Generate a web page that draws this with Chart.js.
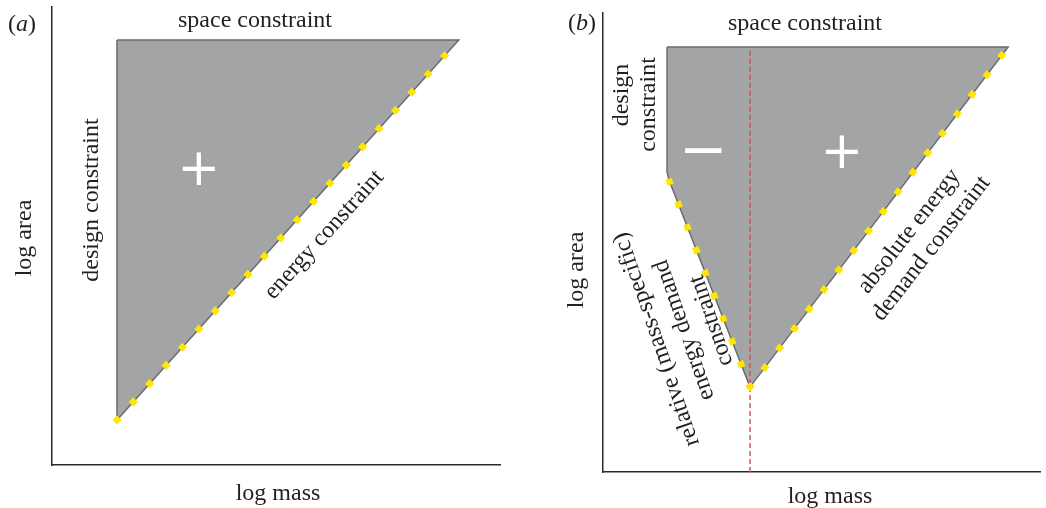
<!DOCTYPE html>
<html><head><meta charset="utf-8">
<script src="https://cdn.jsdelivr.net/npm/chart.js@4.4.1/dist/chart.umd.min.js"></script>
<style>
html,body{margin:0;padding:0;background:#fff;overflow:hidden;}
#wrap{position:relative;width:1046px;height:508px;}
canvas{position:absolute;top:0;}
#ca{left:0;} #cb{left:523px;}
</style></head><body>
<div id="wrap"><canvas id="ca" width="523" height="508"></canvas><canvas id="cb" width="523" height="508"></canvas></div>
<script>
// ---- Data (log mass, log area), arbitrary units 0–10 ----
// Panel (a)
const regionA_mass = [1.45, 9.08, 1.45, 1.45];
const regionA_area = [9.28, 9.28, 0.98, 9.28];
const energyA_mass = [1.45, 9.08];
const energyA_area = [0.98, 9.28];
// Panel (b)
const regionB_mass = [1.465, 9.27, 3.364, 1.51, 1.465, 1.465];
const regionB_area = [9.26, 9.26, 1.85, 6.36, 6.54, 9.26];
const relEnergyB_mass = [3.364, 1.51, 1.465];
const relEnergyB_area = [1.85, 6.36, 6.54];
const absEnergyB_mass = [3.364, 9.27];
const absEnergyB_area = [1.85, 9.26];
const optimumB_mass = [3.364, 3.364];
const optimumB_area = [0, 9.26];
const axisMin = 0, axisMax = 10;

const pts = (xs, ys) => xs.map((x, i) => ({x: x, y: ys[i]}));
const YEL = '#FFE600', FILL = '#A3A4A6', EDGE = '#6C6C6C', INK = '#231F20';
const SERIF = '24px "Liberation Serif", "Times New Roman", serif';

function textPlugin(items, offX) {
  return {
    id: 'texts',
    afterDraw(chart) {
      const ctx = chart.ctx;
      items.forEach(it => {
        ctx.save();
        ctx.fillStyle = it.color || INK;
        ctx.font = it.font || SERIF;
        const x = it.x - offX, y = it.y;
        if (it.parts) {
          ctx.textAlign = 'left'; ctx.textBaseline = 'alphabetic';
          let cx = x;
          it.parts.forEach(p => {
            ctx.font = p[1] + SERIF;
            ctx.fillText(p[0], cx, y);
            cx += ctx.measureText(p[0]).width;
          });
        } else if (it.sym) {
          ctx.textAlign = 'left'; ctx.textBaseline = 'alphabetic';
          const m = ctx.measureText(it.sym);
          const x0 = x - (m.actualBoundingBoxRight - m.actualBoundingBoxLeft) / 2;
          const y0 = y - (m.actualBoundingBoxDescent - m.actualBoundingBoxAscent) / 2;
          ctx.fillText(it.sym, x0, y0);
        } else {
          const lines = Array.isArray(it.t) ? it.t : [it.t];
          const lh = it.lh || 26;
          ctx.translate(x, y);
          ctx.rotate((it.rot || 0) * Math.PI / 180);
          ctx.textAlign = 'center'; ctx.textBaseline = 'alphabetic';
          lines.forEach((l, i) => ctx.fillText(l, 0, (i - (lines.length - 1) / 2) * lh));
        }
        ctx.restore();
      });
    }
  };
}

function scaleOpts() {
  const s = {
    type: 'linear', min: axisMin, max: axisMax,
    ticks: {display: false},
    grid: {display: false, drawTicks: false},
    border: {display: true, color: '#2A2A2A', width: 1.5}
  };
  return {x: Object.assign({}, s), y: JSON.parse(JSON.stringify(s))};
}

function yellowLine(label, data, radii) {
  return {
    label: label, data: data, showLine: true, fill: false,
    borderColor: YEL, borderWidth: 6.5, borderDash: [6.5, 18], borderDashOffset: 3.25,
    borderCapStyle: 'butt', tension: 0,
    pointRadius: radii, pointStyle: 'rectRot', pointBackgroundColor: YEL, pointBorderWidth: 0
  };
}
function region(label, data) {
  return {
    label: label, data: data, showLine: true, fill: 'shape', tension: 0,
    backgroundColor: FILL, borderColor: EDGE, borderWidth: 1.5, borderJoinStyle: 'miter',
    pointRadius: 0
  };
}
function baseOptions(padding) {
  return {
    responsive: false, animation: false, devicePixelRatio: 1,
    layout: {padding: padding, autoPadding: false},
    plugins: {legend: {display: false}, tooltip: {enabled: false}},
    scales: scaleOpts()
  };
}

const textsA = [
  {parts: [['(', ''], ['a', 'italic '], [')', '']], x: 8, y: 31},
  {t: 'space constraint', x: 255, y: 27},
  {sym: '+', x: 199, y: 168, font: '51px "DejaVu Sans"', color: '#fff'},
  {t: 'design constraint', x: 98, y: 200, rot: -90},
  {t: 'log area', x: 31, y: 238, rot: -90},
  {t: 'log mass', x: 278, y: 500},
  {t: 'energy constraint', x: 329, y: 239, rot: -47.8}
];
const textsB = [
  {parts: [['(', ''], ['b', 'italic '], [')', '']], x: 568, y: 29.5},
  {t: 'space constraint', x: 805, y: 30},
  {t: 'design', x: 628, y: 95, rot: -90},
  {t: 'constraint', x: 655, y: 104.5, rot: -90},
  {sym: '\u2212', x: 703.5, y: 151, font: '58px "DejaVu Sans"', color: '#fff'},
  {sym: '+', x: 842, y: 151, font: '51px "DejaVu Sans"', color: '#fff'},
  {t: 'log area', x: 583, y: 270, rot: -90},
  {t: 'log mass', x: 830, y: 503},
  {t: ['relative (mass-specific)', 'energy demand', 'constraint'], x: 690, y: 328, rot: -109, lh: 29},
  {t: ['absolute energy', 'demand constraint'], x: 925.3, y: 243.8, rot: -52, lh: 28}
];

new Chart(document.getElementById('ca'), {
  type: 'scatter',
  data: {datasets: [
    yellowLine('energy constraint', pts(energyA_mass, energyA_area), [4.5, 0]),
    region('feasible region', pts(regionA_mass, regionA_area))
  ]},
  options: baseOptions({left: 52, top: 7, right: 23, bottom: 43}),
  plugins: [textPlugin(textsA, 0)]
});

new Chart(document.getElementById('cb'), {
  type: 'scatter',
  data: {datasets: [
    yellowLine('relative energy demand constraint', pts(relEnergyB_mass, relEnergyB_area), [4.5, 0, 0]),
    yellowLine('absolute energy demand constraint', pts(absEnergyB_mass, absEnergyB_area), [0, 0]),
    {label: 'optimum', data: pts(optimumB_mass, optimumB_area), showLine: true, fill: false,
     borderColor: '#DD4A52', borderWidth: 1.4, borderDash: [5, 3], pointRadius: 0},
    region('feasible region', pts(regionB_mass, regionB_area))
  ]},
  options: baseOptions({left: 80, top: 13, right: 6, bottom: 36}),
  plugins: [textPlugin(textsB, 523)]
});
</script>
</body></html>
